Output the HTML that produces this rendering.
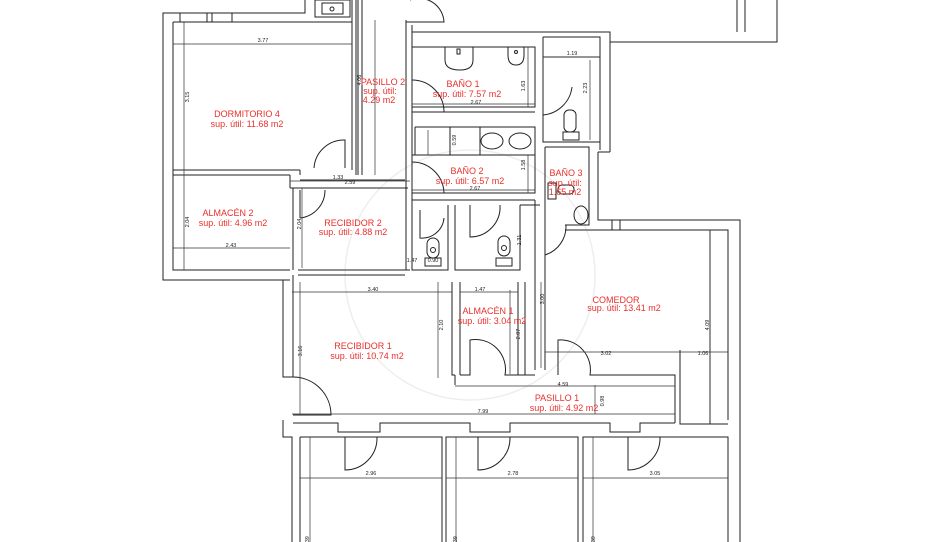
<!DOCTYPE html>
<html><head><meta charset="utf-8"><style>
html,body{margin:0;padding:0;background:#fff;}
svg{display:block;}
.w{stroke:#222;stroke-width:1;fill:none;}
.d{stroke:#333;stroke-width:0.7;fill:none;}
.t{fill:#e8302c;font-family:"Liberation Sans",sans-serif;font-size:9px;text-anchor:middle;}
.n{fill:#222;font-family:"Liberation Sans",sans-serif;font-size:5.5px;text-anchor:middle;}
</style></head><body>
<svg width="948" height="542" viewBox="0 0 948 542" xmlns="http://www.w3.org/2000/svg">
<circle cx="470" cy="275" r="125" fill="none" stroke="#eee" stroke-width="1.5"/>
<g class="w">
<path d="M305 0V13H163V280H290"/>
<path d="M173 22H352V170"/>
<path d="M173 22V270H290"/>
<path d="M180 13V22M207 13V22M212 13V22M232 13V22"/>
<rect x="315" y="0" width="35" height="17"/>
<rect x="322" y="3" width="21" height="11"/>
<circle cx="332" cy="9" r="2"/>
<path d="M352 0V170M356 0V175M358 0V175M362 0V175"/>
<path d="M173 170H300M173 175H290"/>
<path d="M300 170V175M290 175V188M290 188H408M300 180H405"/>
<path d="M293 188V270M300 270H298"/>
<path d="M300 218V190M300 218A28 28 0 0 0 325 190"/>
<path d="M345 168V140A30 30 0 0 0 314 168"/>
<path d="M406 20V270M412 25V270"/>
<path d="M406 22H412M412 32H610V42H777V0M737 0V32M745 0V32"/>
<path d="M412 47H535V107H412M412 107V112H535"/>
<path d="M415 127H535V155H415V127M480 127V155M450 127V155"/>
<path d="M412 155H535V193H412M412 193V200H535"/>
<path d="M412 80A32 32 0 0 1 444 112H444"/>
<path d="M412 162A32 32 0 0 1 444 193"/>
<path d="M410 0A25 25 0 0 1 444 22H412"/>
<!-- fixtures bano1 -->
<path d="M445 47V60Q445 70 460 70Q473 70 473 60V47"/>
<rect x="457" y="49" width="3" height="5"/>
<path d="M508 47V55Q508 65 516 65Q524 65 524 55V47"/>
<circle cx="516" cy="52" r="1.5"/>
<!-- vanity sinks -->
<ellipse cx="492" cy="141" rx="11" ry="8"/>
<ellipse cx="520" cy="141" rx="11" ry="8"/>
<!-- stall toilets -->
<rect x="427" y="238" width="12" height="20" rx="6"/>
<circle cx="433" cy="250" r="2.5"/>
<rect x="425" y="258" width="16" height="8"/>
<rect x="498" y="236" width="12" height="20" rx="6"/>
<circle cx="504" cy="248" r="2.5"/>
<rect x="496" y="258" width="16" height="8"/>
<path d="M412 200V270H448V205M455 205V270H520V205M520 205H540"/>
<path d="M420 210V238A22 22 0 0 0 444 218"/>
<path d="M470 205V237A30 30 0 0 0 500 205"/>
<path d="M543 37H600V142H543V37M600 42V150M610 42V152M543 57H600"/>
<path d="M543 115A32 32 0 0 0 572 87"/>
<rect x="564" y="110" width="12" height="22" rx="5"/>
<rect x="563" y="132" width="16" height="8"/>
<path d="M545 147H589V225H565M589 147V225M598 152V220H740V542M610 152H598"/>
<path d="M545 147V230M535 200V370M545 230V370"/>
<path d="M545 255A30 30 0 0 0 566 225"/>
<ellipse cx="581" cy="215" rx="7" ry="9"/>
<rect x="548" y="183" width="8" height="16"/>
<rect x="558" y="185" width="16" height="9" rx="4"/>
<path d="M565 230H728V420M728 424H680V350M710 230V424"/>
<path d="M612 220V230M620 220V230"/>
<path d="M293 275V377M283 280V377H293M283 420V437H292V542M300 437V542"/>
<path d="M293 377A38 38 0 0 1 331 415H293"/>
<path d="M300 270H410M298 275H405"/>
<path d="M452 282V375H455M460 282V375M518 282V375M525 282V375"/>
<path d="M460 375H470V340A30 30 0 0 1 505 375H535"/>
<path d="M558 375V340A30 30 0 0 1 590 375H675V423"/>
<path d="M455 375V385"/>
<path d="M293 423H338V432H380V423H470V432H510V423H610V432H640V423H675"/>
<path d="M300 437H442V542M446 542V437H578V542M583 542V437H728V542"/>
<path d="M345 437V470A32 32 0 0 0 377 437"/>
<path d="M478 437V470A32 32 0 0 0 510 437"/>
<path d="M628 437V470A32 32 0 0 0 660 437"/>
</g>
<g class="d">
<path d="M173 44H352M184 22V270M173 248H290M375 20V175M290 181H410M302 188V268"/>
<path d="M412 104H535M528 47V107M412 190H535M528 155V193M543 57H600M590 60V140"/>
<path d="M292 292H452M460 292H518M438 282V378M510 290V374M541 282V368M545 352H728M680 352H728M710 230V420"/>
<path d="M455 386H675M292 414H675M595 385V414M300 282V414"/>
<path d="M300 478H442M446 478H578M583 478H728M310 437V542M456 437V542M593 437V542"/>
<path d="M428 130V155"/>
</g>
<g class="n">
<text x="263" y="42">3.77</text><text x="412" y="262">1.47</text>
<text x="338" y="179">1.33</text><text x="350" y="184">2.59</text>
<text x="231" y="247">2.43</text><text x="476" y="104">2.67</text><text x="475" y="190">2.67</text>
<text x="572" y="55">1.19</text><text x="373" y="291">3.40</text><text x="480" y="291">1.47</text>
<text x="606" y="355">3.02</text><text x="703" y="355">1.06</text><text x="563" y="386">4.59</text>
<text x="483" y="413">7.99</text><text x="371" y="475">2.96</text><text x="513" y="475">2.78</text><text x="655" y="475">3.05</text>
<text x="433" y="262">0.90</text>
<text transform="translate(189,97) rotate(-90)">3.15</text>
<text transform="translate(189,222) rotate(-90)">2.04</text>
<text transform="translate(301,224) rotate(-90)">2.04</text>
<text transform="translate(361,80) rotate(-90)">4.06</text>
<text transform="translate(525,86) rotate(-90)">1.63</text>
<text transform="translate(587,88) rotate(-90)">2.23</text>
<text transform="translate(456,140) rotate(-90)">0.59</text>
<text transform="translate(525,165) rotate(-90)">1.58</text>
<text transform="translate(521,240) rotate(-90)">1.31</text>
<text transform="translate(302,351) rotate(-90)">3.16</text>
<text transform="translate(443,325) rotate(-90)">2.10</text>
<text transform="translate(520,334) rotate(-90)">2.07</text>
<text transform="translate(544,299) rotate(-90)">3.00</text>
<text transform="translate(709,325) rotate(-90)">4.09</text>
<text transform="translate(604,401) rotate(-90)">0.98</text>
<text transform="translate(309,540) rotate(-90)">.39</text>
<text transform="translate(457,540) rotate(-90)">.39</text>
<text transform="translate(595,540) rotate(-90)">.39</text>
</g>
<g class="t">
<text x="247" y="117">DORMITORIO 4</text><text x="247" y="127">sup. útil: 11.68 m2</text>
<text x="383" y="85">PASILLO 2</text><text x="380" y="94">sup. útil:</text><text x="379" y="103">4.29 m2</text>
<text x="463" y="87">BAÑO 1</text><text x="467" y="97">sup. útil: 7.57 m2</text>
<text x="467" y="174">BAÑO 2</text><text x="470" y="184">sup. útil: 6.57 m2</text>
<text x="566" y="176">BAÑO 3</text><text x="565" y="186">sup. útil:</text><text x="565" y="195">1.65 m2</text>
<text x="228" y="216">ALMACÉN 2</text><text x="233" y="226">sup. útil: 4.96 m2</text>
<text x="353" y="226">RECIBIDOR 2</text><text x="353" y="235">sup. útil: 4.88 m2</text>
<text x="363" y="349">RECIBIDOR 1</text><text x="367" y="359">sup. útil: 10.74 m2</text>
<text x="488" y="314">ALMACÉN 1</text><text x="492" y="324">sup. útil: 3.04 m2</text>
<text x="616" y="303">COMEDOR</text><text x="624" y="311">sup. útil: 13.41 m2</text>
<text x="557" y="401">PASILLO 1</text><text x="564" y="411">sup. útil: 4.92 m2</text>
</g>
</svg>
</body></html>
